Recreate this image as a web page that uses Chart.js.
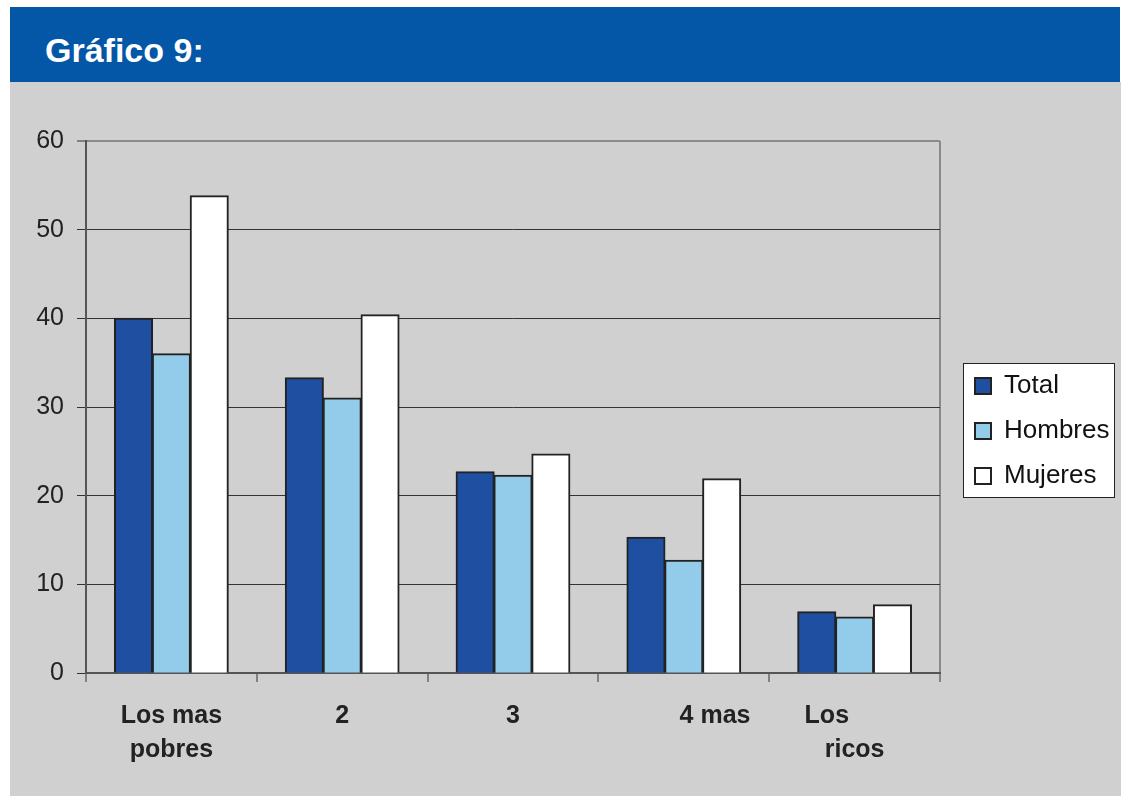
<!DOCTYPE html>
<html><head><meta charset="utf-8">
<script src="https://cdn.jsdelivr.net/npm/chart.js@4/dist/chart.umd.min.js"></script>
<style>
html,body{margin:0;padding:0;background:#fff;width:1124px;height:796px;overflow:hidden}
#panel{position:absolute;left:10px;top:82px;width:1111px;height:714px;background:#d0d0d0}
#header{position:absolute;left:10px;top:7px;width:1110px;height:75px;background:#0457a7}
#title{position:absolute;left:45px;top:34px;margin:0;font:bold 34px "Liberation Sans",Arial,sans-serif;line-height:33px;color:#fff}
canvas{position:absolute;left:0;top:0}
</style></head><body>
<div id="panel"></div><div id="header"></div><h1 id="title">Gráfico 9:</h1>
<canvas id="c" width="1124" height="796"></canvas>
<script>
const categories = [["Los mas","pobres"],"2","3","4 mas",["Los","ricos"]];
const seriesNames = ["Total","Hombres","Mujeres"];
const totalValues = [40.0,33.3,22.7,15.3,6.9];
const hombresValues = [36.0,31.0,22.3,12.7,6.3];
const mujeresValues = [53.8,40.4,24.7,21.9,7.7];
const yTicks = [0,10,20,30,40,50,60];

const legendPanel = {
  id:'legendPanel',
  afterLayout(chart){
    const lg = chart.legend;
    const w = lg.width;
    lg.left = 956; lg.right = 956 + w;
    lg.top = 354; lg.bottom = 354 + 220;
  },
  beforeDraw(chart){
    const ctx = chart.ctx;
    ctx.save();
    ctx.fillStyle = '#ffffff';
    ctx.fillRect(963.5,363.5,151,134);
    ctx.strokeStyle = '#222';
    ctx.lineWidth = 1;
    ctx.strokeRect(963.5,363.5,151,134);
    ctx.restore();
  }
};

const labelPad = [ [0,0], [0,0], [0,0], [9,0], [0,8] ];
function formatLabel(i){
  const l = categories[i];
  const p = labelPad[i];
  if (Array.isArray(l)) return [l[0] + ' '.repeat(p[1]), l[1]];
  return ' '.repeat(p[0]) + l;
}

new Chart(document.getElementById('c'), {
  type:'bar',
  data:{
    labels: categories,
    datasets:[
      {label:seriesNames[0], data:totalValues, backgroundColor:'#1f4fa1', borderColor:'#222', borderWidth:2},
      {label:seriesNames[1], data:hombresValues, backgroundColor:'#93cbea', borderColor:'#222', borderWidth:2},
      {label:seriesNames[2], data:mujeresValues, backgroundColor:'#ffffff', borderColor:'#222', borderWidth:2}
    ]
  },
  plugins:[legendPanel],
  options:{
    responsive:false,
    animation:false,
    layout:{padding:{left:0, top:141, right:184, bottom:23}},
    datasets:{bar:{barPercentage:1, categoryPercentage:0.665, borderSkipped:'start', inflateAmount:0.6}},
    plugins:{
      title:{display:false},
      tooltip:{enabled:false},
      legend:{
        position:'chartArea',
        align:'start',
        labels:{
          boxWidth:16, boxHeight:16, padding:19, color:'#111',
          font:{family:'Liberation Sans', size:26, lineHeight:1.2}
        }
      }
    },
    scales:{
      x:{
        afterFit(s){ s.height = 100; },
        ticks:{
          color:'#222', autoSkip:false, maxRotation:0, minRotation:0, padding:17,
          font:{family:'Liberation Sans', size:25, weight:'bold', lineHeight:1.36},
          callback:(v,i)=>formatLabel(i)
        },
        grid:{
          offset:true, drawOnChartArea:true, drawTicks:true, tickLength:9, tickWidth:1, tickColor:'#333',
          color:(c)=> c.type==='tick' ? 'rgba(0,0,0,0)' : '#8a8a8a',
          lineWidth:2
        },
        border:{color:'#555', width:2}
      },
      y:{
        min:0, max:60,
        afterFit(s){ s.width = 86; },
        afterBuildTicks(s){ s.ticks = yTicks.map(v=>({value:v})); },
        ticks:{color:'#222', padding:13, font:{family:'Liberation Sans', size:25}},
        grid:{
          tickLength:9, tickColor:'#333', tickWidth:1,
          color:(c)=> (c.tick && c.tick.value===60) ? '#8a8a8a' : '#333333',
          lineWidth:(c)=> (c.tick && c.tick.value===60) ? 2 : 1
        },
        border:{color:'#555', width:2}
      }
    }
  }
});
</script>
</body></html>
